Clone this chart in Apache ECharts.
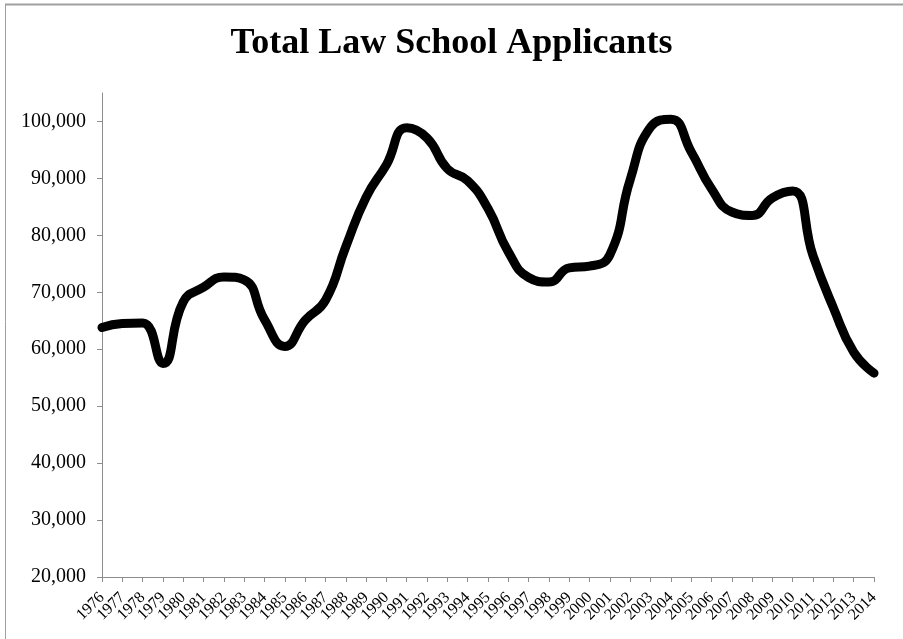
<!DOCTYPE html>
<html>
<head>
<meta charset="utf-8">
<script src="https://cdn.jsdelivr.net/npm/echarts@6/dist/echarts.min.js"></script>
<style>
  html, body { margin: 0; padding: 0; background: #fff; }
  #chart { width: 903px; height: 639px; }
</style>
</head>
<body>
<div id="chart"></div>
<script>
// years and applicants
var years = ['1976', '1977', '1978', '1979', '1980', '1981', '1982', '1983', '1984', '1985',
             '1986', '1987', '1988', '1989', '1990', '1991', '1992', '1993', '1994', '1995',
             '1996', '1997', '1998', '1999', '2000', '2001', '2002', '2003', '2004', '2005',
             '2006', '2007', '2008', '2009', '2010', '2011', '2012', '2013', '2014'];
var applicants = [63800, 64500, 64600, 57500, 68300, 70900, 72700, 72200, 65200, 60500,
                  65100, 68600, 78000, 86700, 92400, 98900, 97100, 91700, 89600, 84700,
                  77100, 72600, 71800, 74300, 74600, 76600, 89800, 99000, 100400, 94700,
                  88200, 84100, 83500, 86600, 87800, 76400, 67300, 59500, 55800];
var yTicks = [20000, 30000, 40000, 50000, 60000, 70000, 80000, 90000, 100000];

var chart = echarts.init(document.getElementById('chart'));

var axisGrey = '#8c8c8c';

var option = {
    backgroundColor: '#fff',
    title: {
        text: 'Total Law School Applicants',
        left: 'center',
        top: 21,
        textStyle: {
            fontFamily: 'Liberation Serif',
            fontWeight: 'bold',
            fontSize: 36,
            color: '#000'
        }
    },
    grid: {
        left: 102,
        right: 29,
        top: 93,
        bottom: 62
    },
    xAxis: {
        type: 'category',
        boundaryGap: false,
        data: years,
        axisLine: { lineStyle: { color: axisGrey, width: 1 } },
        axisTick: { length: 5, lineStyle: { color: axisGrey } },
        axisLabel: {
            interval: 0,
            rotate: 45,
            margin: 18,
            fontFamily: 'Liberation Serif',
            fontSize: 16,
            color: '#000'
        },
        splitLine: { show: false }
    },
    yAxis: {
        type: 'value',
        min: 20000,
        max: 105000,
        axisLine: { show: true, lineStyle: { color: axisGrey, width: 1 } },
        axisTick: { show: true, length: 5, customValues: yTicks, lineStyle: { color: axisGrey } },
        axisLabel: {
            customValues: yTicks,
            margin: 16,
            fontFamily: 'Liberation Serif',
            fontSize: 20,
            color: '#000',
            formatter: function (v) {
                return v.toString().replace(/\B(?=(\d{3})+(?!\d))/g, ',');
            }
        },
        splitLine: { show: false }
    },
    series: [{
        name: 'Applicants',
        type: 'line',
        smooth: 0.5,
        showSymbol: false,
        data: applicants,
        lineStyle: { color: '#000', width: 9, cap: 'round', join: 'round' },
        itemStyle: { color: '#000' }
    }],
    // the frame around the picture
    graphic: [
        { type: 'line', shape: { x1: 5, y1: 4.5, x2: 903, y2: 4.5 }, style: { stroke: '#a0a0a0', lineWidth: 2 } },
        { type: 'line', shape: { x1: 5.5, y1: 4, x2: 5.5, y2: 639 }, style: { stroke: '#a0a0a0', lineWidth: 1 } }
    ]
};

chart.setOption(option);
</script>
</body>
</html>
